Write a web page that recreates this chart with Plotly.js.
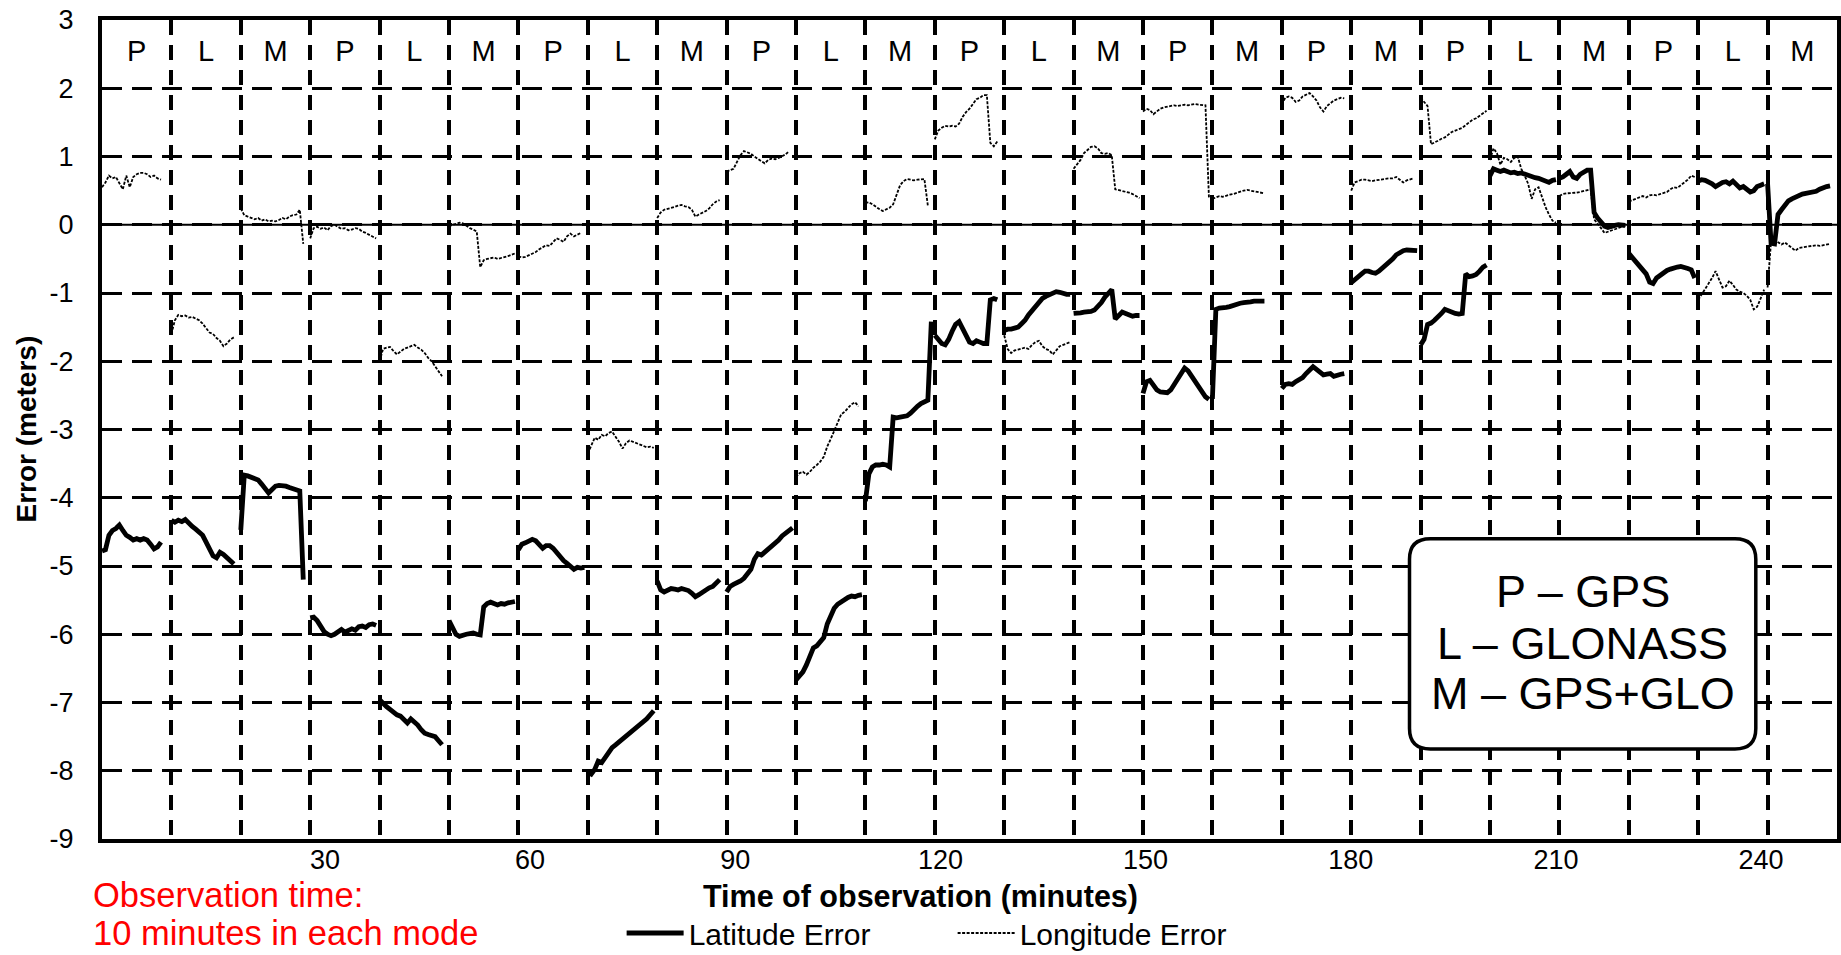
<!DOCTYPE html>
<html>
<head>
<meta charset="utf-8">
<script src="https://cdn.plot.ly/plotly-3.0.1.min.js"></script>
<style>
  html, body { margin: 0; padding: 0; background: #ffffff; }
  #chart { width: 1841px; height: 955px; }
</style>
</head>
<body>
<div id="chart"></div>
<script>
// ---------------- DATA ----------------
// Receiver mode used in each consecutive 10-minute window
const modeLabels = ['P','L','M','P','L','M','P','L','M','P','L','M','P','L','M','P','M','P','M','P','L','M','P','L','M'];
const modeLegendLines = ['P – GPS', 'L – GLONASS', 'M – GPS+GLO'];
const noteLines = ['Observation time:', '10 minutes in each mode'];
const segmentMinutes = 10;      // observation time in each mode
const sampleStepMinutes = 0.5;  // spacing of the plotted samples inside a window

// Latitude error (m), one list per 10-minute window, samples every 0.5 min
const latitudeError = [
  [-4.78,-4.76,-4.55,-4.48,-4.45,-4.40,-4.48,-4.55,-4.58,-4.62,-4.60,-4.62,-4.60,-4.62,-4.68,-4.75,-4.72,-4.65],
  [-4.33,-4.36,-4.33,-4.35,-4.32,-4.38,-4.42,-4.46,-4.50,-4.55,-4.65,-4.75,-4.85,-4.88,-4.80,-4.83,-4.88,-4.92,-4.97],
  [-4.47,-3.67,-3.68,-3.70,-3.72,-3.74,-3.80,-3.88,-3.93,-3.88,-3.83,-3.82,-3.82,-3.83,-3.85,-3.87,-3.88,-3.90,-5.20],
  [-5.76,-5.75,-5.80,-5.88,-5.96,-6.00,-6.02,-6.00,-5.97,-5.93,-5.97,-5.94,-5.92,-5.94,-5.89,-5.88,-5.90,-5.86,-5.85,-5.87],
  [-6.96,-7.02,-7.06,-7.10,-7.15,-7.18,-7.20,-7.25,-7.30,-7.24,-7.28,-7.33,-7.40,-7.45,-7.47,-7.48,-7.50,-7.56,-7.62],
  [-5.80,-5.92,-6.00,-6.03,-6.01,-6.00,-5.99,-5.98,-6.00,-6.01,-5.60,-5.55,-5.53,-5.55,-5.57,-5.55,-5.56,-5.54,-5.53,-5.52],
  [-4.76,-4.68,-4.66,-4.64,-4.61,-4.63,-4.68,-4.74,-4.70,-4.70,-4.74,-4.80,-4.88,-4.92,-4.96,-5.00,-5.05,-5.02,-5.03,-5.02],
  [-8.02,-8.05,-7.98,-7.86,-7.88,-7.80,-7.72,-7.66,-7.62,-7.58,-7.54,-7.48,-7.44,-7.40,-7.36,-7.32,-7.28,-7.24,-7.18,-7.12],
  [-5.22,-5.35,-5.38,-5.36,-5.33,-5.34,-5.35,-5.33,-5.34,-5.36,-5.40,-5.45,-5.42,-5.38,-5.36,-5.32,-5.30,-5.26,-5.20],
  [-5.38,-5.30,-5.27,-5.25,-5.22,-5.18,-5.12,-5.05,-4.90,-4.82,-4.84,-4.80,-4.76,-4.72,-4.66,-4.62,-4.56,-4.52,-4.48,-4.44],
  [-6.67,-6.62,-6.55,-6.45,-6.30,-6.20,-6.17,-6.12,-6.05,-5.85,-5.72,-5.62,-5.56,-5.52,-5.48,-5.46,-5.44,-5.45,-5.43,-5.42],
  [-4.05,-3.65,-3.55,-3.52,-3.52,-3.51,-3.52,-3.55,-2.82,-2.83,-2.82,-2.81,-2.80,-2.76,-2.70,-2.66,-2.62,-2.59,-2.57,-1.42],
  [-1.62,-1.68,-1.74,-1.76,-1.68,-1.56,-1.46,-1.42,-1.52,-1.64,-1.72,-1.74,-1.70,-1.72,-1.74,-1.74,-1.10,-1.08,-1.10],
  [-1.55,-1.53,-1.53,-1.51,-1.50,-1.45,-1.40,-1.32,-1.26,-1.20,-1.14,-1.08,-1.05,-1.03,-1.01,-0.98,-0.99,-1.01,-1.02,-1.02],
  [-1.30,-1.30,-1.29,-1.28,-1.28,-1.27,-1.25,-1.20,-1.14,-1.06,-1.00,-0.95,-1.38,-1.32,-1.28,-1.30,-1.32,-1.34,-1.33,-1.33],
  [-2.47,-2.30,-2.28,-2.36,-2.42,-2.45,-2.46,-2.46,-2.42,-2.34,-2.25,-2.16,-2.10,-2.14,-2.22,-2.30,-2.38,-2.46,-2.52,-2.56],
  [-2.55,-1.24,-1.22,-1.22,-1.21,-1.20,-1.18,-1.17,-1.15,-1.14,-1.14,-1.13,-1.12,-1.12,-1.13,-1.12],
  [-2.40,-2.34,-2.33,-2.34,-2.30,-2.27,-2.24,-2.18,-2.12,-2.08,-2.12,-2.16,-2.20,-2.19,-2.18,-2.22,-2.20,-2.19,-2.18],
  [-0.85,-0.80,-0.76,-0.72,-0.68,-0.68,-0.70,-0.71,-0.68,-0.64,-0.60,-0.55,-0.50,-0.44,-0.40,-0.38,-0.37,-0.37,-0.38,-0.38],
  [-1.76,-1.68,-1.46,-1.44,-1.40,-1.36,-1.30,-1.24,-1.26,-1.29,-1.30,-1.31,-1.30,-0.72,-0.76,-0.75,-0.73,-0.68,-0.62,-0.59],
  [0.72,0.82,0.80,0.78,0.80,0.78,0.76,0.77,0.75,0.76,0.74,0.72,0.70,0.69,0.68,0.66,0.64,0.62,0.65,0.66],
  [0.68,0.70,0.74,0.78,0.70,0.68,0.74,0.78,0.80,0.80,0.18,0.10,0.04,-0.02,-0.04,-0.02,-0.01,0.00,0.00,-0.01],
  [-0.42,-0.48,-0.55,-0.60,-0.66,-0.72,-0.84,-0.86,-0.78,-0.74,-0.70,-0.67,-0.65,-0.63,-0.62,-0.61,-0.62,-0.64,-0.66,-0.78],
  [0.64,0.66,0.65,0.63,0.60,0.56,0.60,0.62,0.63,0.60,0.64,0.58,0.54,0.56,0.52,0.48,0.50,0.56,0.58,0.60],
  [0.60,-0.27,-0.28,0.15,0.22,0.30,0.35,0.38,0.41,0.43,0.45,0.46,0.47,0.48,0.49,0.52,0.55,0.56,0.57]
];

// Longitude error (m), same windows and sampling
const longitudeError = [
  [0.55,0.62,0.72,0.68,0.70,0.60,0.52,0.72,0.55,0.70,0.74,0.76,0.76,0.74,0.70,0.72,0.68,0.66],
  [-1.60,-1.40,-1.32,-1.34,-1.33,-1.36,-1.35,-1.38,-1.40,-1.45,-1.52,-1.58,-1.60,-1.66,-1.70,-1.78,-1.74,-1.68,-1.65],
  [0.24,0.14,0.12,0.10,0.08,0.10,0.06,0.08,0.05,0.06,0.05,0.07,0.10,0.08,0.12,0.14,0.15,0.22,-0.28],
  [-0.20,-0.05,-0.03,-0.06,-0.04,-0.08,-0.02,0.00,-0.03,-0.06,-0.05,-0.08,-0.07,-0.05,-0.06,-0.10,-0.12,-0.15,-0.18,-0.20],
  [-2.00,-1.82,-1.80,-1.79,-1.85,-1.90,-1.86,-1.82,-1.80,-1.78,-1.76,-1.80,-1.83,-1.88,-1.95,-2.00,-2.08,-2.15,-2.22],
  [-0.02,0.00,0.01,0.03,0.02,-0.02,-0.05,-0.07,-0.10,-0.62,-0.52,-0.50,-0.49,-0.48,-0.50,-0.49,-0.47,-0.46,-0.44,-0.42],
  [-0.46,-0.48,-0.47,-0.45,-0.42,-0.40,-0.36,-0.33,-0.30,-0.31,-0.26,-0.20,-0.22,-0.25,-0.17,-0.13,-0.17,-0.15,-0.12],
  [-3.35,-3.22,-3.12,-3.15,-3.08,-3.10,-3.05,-3.03,-3.10,-3.18,-3.28,-3.20,-3.16,-3.18,-3.20,-3.22,-3.24,-3.26,-3.25,-3.27],
  [0.10,0.18,0.22,0.23,0.25,0.26,0.28,0.29,0.27,0.26,0.22,0.12,0.15,0.17,0.20,0.24,0.30,0.34,0.36],
  [0.78,0.80,0.82,0.92,1.02,1.08,1.06,1.04,1.00,0.96,0.93,0.90,0.95,0.97,0.96,0.98,1.01,1.03,1.08],
  [-3.70,-3.64,-3.62,-3.66,-3.62,-3.56,-3.52,-3.47,-3.40,-3.25,-3.14,-3.02,-2.90,-2.78,-2.74,-2.68,-2.63,-2.60,-2.66],
  [0.32,0.33,0.30,0.26,0.23,0.20,0.22,0.25,0.30,0.45,0.58,0.64,0.67,0.66,0.65,0.66,0.66,0.67,0.28],
  [1.25,1.38,1.42,1.45,1.44,1.45,1.44,1.48,1.58,1.65,1.70,1.78,1.84,1.86,1.90,1.90,1.20,1.15,1.22],
  [-1.62,-1.82,-1.88,-1.84,-1.83,-1.82,-1.80,-1.82,-1.76,-1.72,-1.70,-1.78,-1.82,-1.84,-1.90,-1.84,-1.78,-1.76,-1.74,-1.72],
  [0.82,0.88,0.95,1.05,1.10,1.14,1.15,1.12,1.05,1.04,1.05,1.02,0.52,0.51,0.50,0.49,0.47,0.45,0.42,0.39],
  [1.66,1.70,1.68,1.62,1.66,1.70,1.72,1.73,1.74,1.75,1.74,1.75,1.76,1.75,1.76,1.77,1.76,1.76,1.75,0.40],
  [0.38,0.40,0.42,0.41,0.43,0.44,0.45,0.47,0.48,0.50,0.51,0.50,0.49,0.48,0.47,0.46],
  [1.76,1.86,1.88,1.86,1.80,1.82,1.88,1.90,1.93,1.88,1.82,1.72,1.66,1.74,1.78,1.82,1.84,1.86,1.85],
  [0.50,0.62,0.64,0.66,0.66,0.65,0.64,0.65,0.66,0.66,0.67,0.68,0.68,0.70,0.66,0.62,0.65,0.67,0.68],
  [1.86,1.80,1.74,1.18,1.20,1.23,1.26,1.28,1.32,1.36,1.38,1.40,1.42,1.46,1.50,1.54,1.56,1.60,1.64,1.67],
  [0.95,1.12,1.05,0.88,0.98,0.96,0.92,0.98,1.00,0.82,0.72,0.60,0.38,0.52,0.55,0.40,0.26,0.15,0.06,0.03],
  [0.42,0.45,0.46,0.46,0.47,0.47,0.48,0.49,0.50,0.52,0.08,0.02,-0.05,-0.12,-0.10,-0.08,-0.06,-0.04,-0.03,-0.02],
  [0.34,0.36,0.39,0.40,0.42,0.40,0.43,0.44,0.43,0.45,0.46,0.48,0.52,0.55,0.54,0.58,0.62,0.66,0.72,0.70],
  [-1.10,-1.02,-0.95,-0.88,-0.78,-0.68,-0.80,-0.92,-0.90,-0.82,-0.88,-0.95,-0.98,-1.00,-1.04,-1.10,-1.24,-1.20,-1.08,-0.95],
  [-0.92,-0.24,-0.22,-0.26,-0.29,-0.26,-0.30,-0.34,-0.38,-0.34,-0.33,-0.32,-0.31,-0.30,-0.30,-0.31,-0.30,-0.29,-0.28]
];

// Axis tick values and labels
const timeTickValues = [30, 60, 90, 120, 150, 180, 210, 240];
const errorTickValues = [-9, -8, -7, -6, -5, -4, -3, -2, -1, 0, 1, 2, 3];
const errorTickLabels = ['-9', '-8', '-7', '-6', '-5', '-4', '-3', '-2', '-1', '0', '1', '2', '3'];
// zero reference line extent (minutes) and level (m)
const zeroReferenceMinutes = [0, 251.1];
const zeroReferenceError = [0, 0];

// ---------------- BUILD ----------------
function toSeries(windows) {
  const x = [], y = [];
  windows.forEach((samples, k) => {
    samples.forEach((v, i) => {
      x.push(k * segmentMinutes + i * sampleStepMinutes);
      y.push(v);
    });
    x.push(null); y.push(null);
  });
  return { x, y };
}

const lat = toSeries(latitudeError);
const lon = toSeries(longitudeError);
const FONT = '"Liberation Sans", Arial, sans-serif';

const traces = [
  {
    type: 'scatter', mode: 'lines', name: 'Latitude Error',
    x: lat.x, y: lat.y, connectgaps: false,
    line: { color: '#000000', width: 4.8 },
    hoverinfo: 'skip'
  },
  {
    type: 'scatter', mode: 'lines', name: 'Longitude Error',
    x: lon.x, y: lon.y, connectgaps: false,
    line: { color: '#000000', width: 1.8, dash: '3px,1.5px' },
    hoverinfo: 'skip'
  },
  {
    type: 'scatter', mode: 'lines', xaxis: 'x2', yaxis: 'y',
    x: zeroReferenceMinutes, y: zeroReferenceError,
    line: { color: '#000000', width: 2.2 },
    showlegend: false, hoverinfo: 'skip'
  },
  {
    type: 'scatter', mode: 'text',
    x: modeLabels.map((_, k) => k * segmentMinutes + segmentMinutes / 2),
    y: modeLabels.map(() => 2.5),
    text: modeLabels,
    textfont: { family: FONT, size: 29, color: '#000000' },
    textposition: 'middle center',
    cliponaxis: false, showlegend: false, hoverinfo: 'skip'
  }
];

// rounded box explaining the mode letters (data coordinates)
const bx0 = 188.4, bx1 = 238.3, by0 = -7.68, by1 = -4.60, rx = 3.0, ry = 0.30;
const boxPath =
  `M${bx0 + rx},${by1} L${bx1 - rx},${by1} Q${bx1},${by1} ${bx1},${by1 - ry} ` +
  `L${bx1},${by0 + ry} Q${bx1},${by0} ${bx1 - rx},${by0} ` +
  `L${bx0 + rx},${by0} Q${bx0},${by0} ${bx0},${by0 + ry} ` +
  `L${bx0},${by1 - ry} Q${bx0},${by1} ${bx0 + rx},${by1} Z`;

const boxTextY = [-5.38, -6.14, -6.87];
const boxAnnotations = modeLegendLines.map((t, i) => ({
  xref: 'x', yref: 'y', x: (bx0 + bx1) / 2, y: boxTextY[i],
  text: t, showarrow: false, xanchor: 'center', yanchor: 'middle',
  font: { family: FONT, size: 45, color: '#000000' }
}));

// red two-line note: base font sets the line pitch, spans set the glyph size
const noteText = noteLines.map(s => `<span style="font-size:34.5px">${s}</span>`).join('<br>');

const layout = {
  width: 1841, height: 955,
  margin: { l: 102, r: 4, t: 20, b: 116, pad: 0, autoexpand: false },
  paper_bgcolor: '#ffffff', plot_bgcolor: '#ffffff',
  font: { family: FONT, color: '#000000', size: 27 },
  showlegend: true,
  legend: {
    orientation: 'h', x: 0.2995, y: -0.1148, xanchor: 'left', yanchor: 'middle',
    font: { family: FONT, size: 30, color: '#000000' },
    bgcolor: 'rgba(0,0,0,0)', borderwidth: 0,
    entrywidth: 259, itemwidth: 57, traceorder: 'normal'
  },
  xaxis: {
    range: [0, 250], tick0: 0, dtick: segmentMinutes,
    showgrid: true, gridcolor: '#000000', gridwidth: 4, griddash: '15px,10px',
    showticklabels: false, ticks: '',
    showline: true, linecolor: '#000000', linewidth: 4, mirror: true,
    zeroline: false, fixedrange: true
  },
  xaxis2: {
    overlaying: 'x', anchor: 'y', side: 'bottom',
    range: [-2.6, 251.1], tickmode: 'array', tickvals: timeTickValues,
    showgrid: false, zeroline: false, showline: false,
    ticks: '', ticklabelstandoff: 2,
    tickfont: { family: FONT, size: 27, color: '#000000' }, fixedrange: true
  },
  yaxis: {
    range: [-9, 3], tickmode: 'array', tickvals: errorTickValues, ticktext: errorTickLabels,
    showgrid: true, gridcolor: '#000000', gridwidth: 3, griddash: '20px,10px',
    showline: true, linecolor: '#000000', linewidth: 4, mirror: true,
    zeroline: false, ticks: 'outside', ticklen: 19, tickcolor: 'rgba(0,0,0,0)',
    tickfont: { family: FONT, size: 27, color: '#000000' },
    fixedrange: true
  },
  shapes: [
    { type: 'path', xref: 'x', yref: 'y', path: boxPath, layer: 'above',
      fillcolor: '#ffffff', line: { color: '#000000', width: 3.5 } }
  ],
  annotations: [
    { xref: 'paper', yref: 'paper', x: -0.0438, y: 0.5, xanchor: 'center', yanchor: 'middle',
      textangle: -90, text: '<b>Error (meters)</b>', showarrow: false,
      font: { family: FONT, size: 28, color: '#000000' } },
    { xref: 'paper', yref: 'paper', x: 0.4715, y: -0.0696, xanchor: 'center', yanchor: 'middle',
      text: '<b>Time of observation (minutes)</b>', showarrow: false,
      font: { family: FONT, size: 30.5, color: '#000000' } },
    { xref: 'paper', yref: 'paper', x: -0.0058, y: -0.1398, xanchor: 'left', yanchor: 'bottom',
      align: 'left', text: noteText, showarrow: false, borderpad: 0,
      font: { family: FONT, size: 29, color: '#ff0000' } }
  ].concat(boxAnnotations)
};

Plotly.newPlot('chart', traces, layout, { staticPlot: true, displayModeBar: false });
</script>
</body>
</html>
